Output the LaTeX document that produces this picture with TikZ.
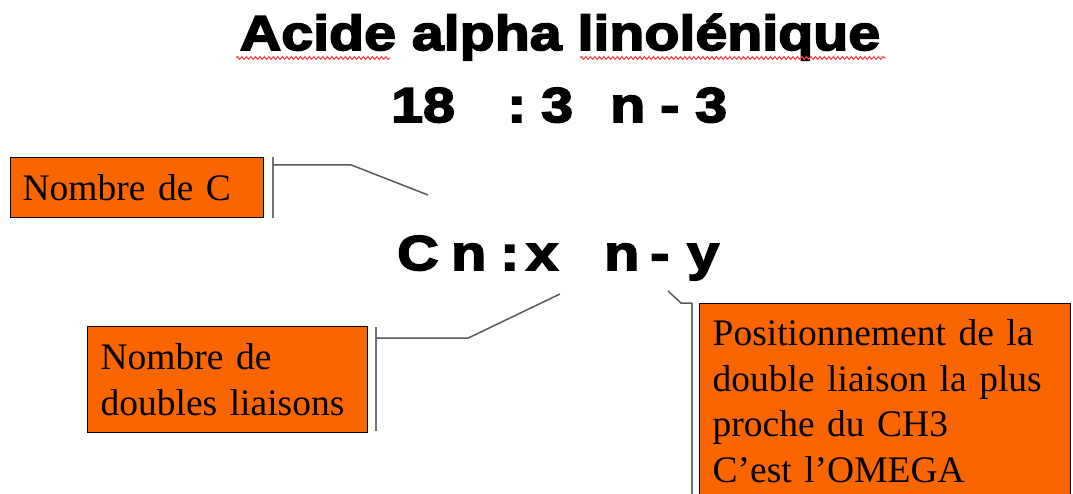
\documentclass[tikz,border=0pt]{standalone}
\usepackage{fontspec}
\setmainfont{Liberation Serif}
\newfontfamily\grasfont[FakeStretch=1.17,FakeBold=3.5]{Liberation Sans Bold}
\usetikzlibrary{calc,decorations.pathmorphing,positioning}
\definecolor{orangeboite}{HTML}{F96600}
\tikzset{
  titre/.style={font=\grasfont\fontsize{49}{55}\selectfont, inner sep=0pt, anchor=base},
  formule/.style={font=\grasfont\fontsize{49}{55}\selectfont, inner sep=0pt, anchor=base west},
  boite/.style={draw=black, line width=1.3pt, fill=orangeboite, anchor=north west,
    align=left, inner xsep=13pt, inner ysep=0pt, font=\fontsize{37.5}{45.5}\selectfont},
  trait/.style={draw=black!65, line width=1.5pt},
  crochet/.style={draw=black!55, line width=2.2pt},
  vague/.style={draw=red!75, line width=1pt, decorate,
    decoration={snake, amplitude=1.5pt, segment length=4.5pt}}
}

\begin{document}
\begin{tikzpicture}[x=1pt, y=-1pt]
	\clip (0,0) rectangle (1073,494);
	\fill[white] (0,0) rectangle (1073,494);
	
	% titre
	\node[titre] (titre) at (560,50) {Acide alpha linolénique};
	\draw[vague] (236,58) -- (390,58);
	\draw[vague] (580,58) -- (886,58);
	
	% formule de l'acide
	\foreach \t/\x [count=\i] in {18/391, :/507, 3/541, n/610, -/660, 3/695}
		\node[formule] (acide\i) at (\x,122) {\t};
	
	% formule generale
	\foreach \t/\x [count=\i] in {C/397, n/451, :/500, x/526, n/604, -/650, y/687}
		\node[formule] (gen\i) at (\x,270) {\t};
	
	% boites
	\node[boite, inner xsep=12pt, text width=229pt, minimum width=253pt, minimum height=60pt]
		(nbC) at (10,157) {Nombre de C};
	\node[boite, text width=254pt, minimum width=280pt, minimum height=106pt]
		(nbDL) at (87,326) {Nombre de\\doubles liaisons};
	\node[boite, text width=345pt, minimum width=371pt, minimum height=195pt]
		(omega) at (699,303) {Positionnement de la\\double liaison la plus\\proche du CH3\\C’est l’OMEGA};
	
	% reperes
	\coordinate (pC) at (428,195);
	\coordinate (pX) at (560,294);
	\coordinate (pY) at (668,291);
	
	\draw[crochet] ([xshift=9pt]nbC.north east) -- ([xshift=9pt]nbC.south east);
	\draw[trait] ([xshift=9pt,yshift=-8pt]nbC.north east) -- ++(78,0) -- (pC);
	
	\draw[crochet] ([xshift=8pt,yshift=-1pt]nbDL.north east) -- ([xshift=8pt,yshift=2pt]nbDL.south east);
	\draw[trait] ([xshift=8pt,yshift=-12pt]nbDL.north east) -- ++(92,0) -- (pX);
	
	\draw[crochet] ([xshift=-7pt]omega.north west) -- ([xshift=-7pt]omega.south west);
	\draw[trait] ([xshift=-7pt]omega.north west) -- ++(-11,0) -- (pY);
	
\end{tikzpicture}
\end{document}
